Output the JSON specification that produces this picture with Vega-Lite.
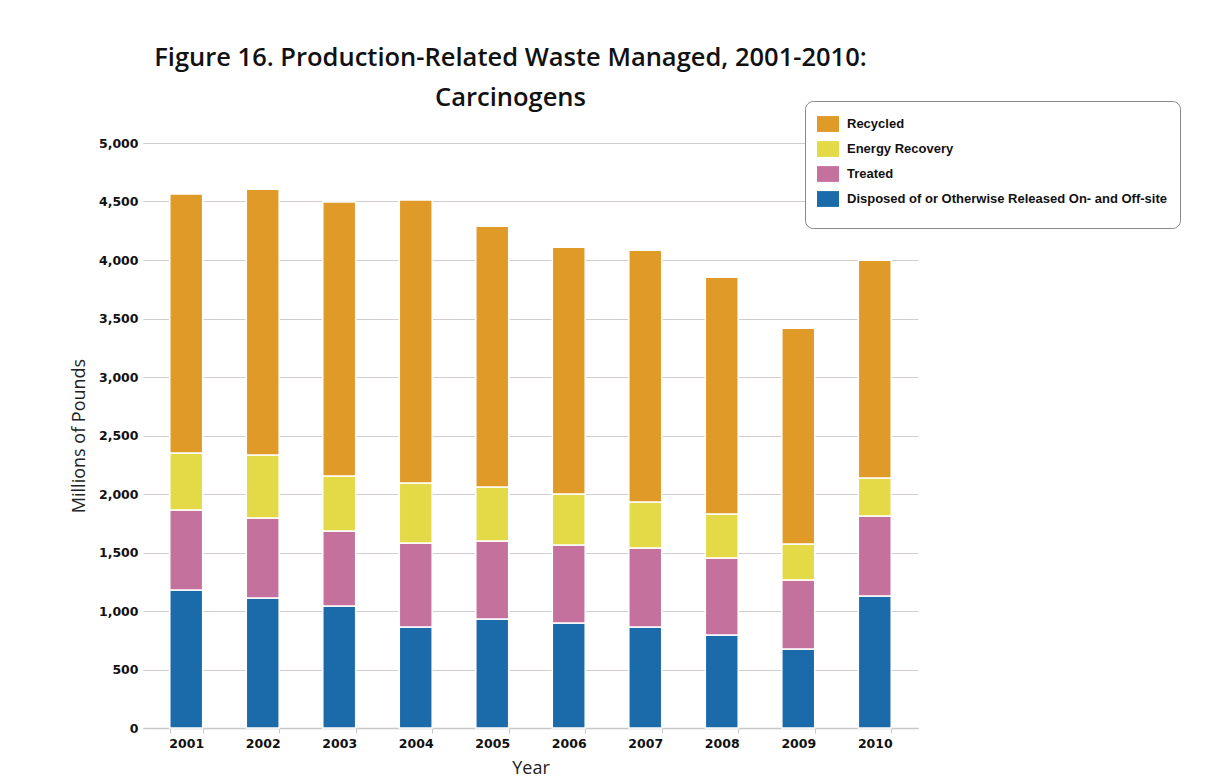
{
  "$schema": "https://vega.github.io/schema/vega-lite/v6.json",
  "width": 775,
  "height": 585,
  "autosize": "none",
  "padding": {"left": 143, "top": 143, "right": 312, "bottom": 56},
  "background": "white",
  "title": {
    "text": ["Figure 16. Production-Related Waste Managed, 2001-2010:", "Carcinogens"],
    "font": "Open Sans",
    "fontSize": 25.5,
    "fontWeight": 600,
    "color": "#111111",
    "anchor": "middle",
    "frame": "group",
    "lineHeight": 40,
    "offset": -11,
    "dx": -20
  },
  "data": {
    "values": [
      {"year": "2001", "category": "Disposed of or Otherwise Released On- and Off-site", "k": 1, "value": 1180},
      {"year": "2001", "category": "Treated", "k": 2, "value": 683},
      {"year": "2001", "category": "Energy Recovery", "k": 3, "value": 487},
      {"year": "2001", "category": "Recycled", "k": 4, "value": 2215},
      {"year": "2002", "category": "Disposed of or Otherwise Released On- and Off-site", "k": 1, "value": 1111},
      {"year": "2002", "category": "Treated", "k": 2, "value": 684},
      {"year": "2002", "category": "Energy Recovery", "k": 3, "value": 538},
      {"year": "2002", "category": "Recycled", "k": 4, "value": 2272},
      {"year": "2003", "category": "Disposed of or Otherwise Released On- and Off-site", "k": 1, "value": 1043},
      {"year": "2003", "category": "Treated", "k": 2, "value": 641},
      {"year": "2003", "category": "Energy Recovery", "k": 3, "value": 470},
      {"year": "2003", "category": "Recycled", "k": 4, "value": 2341},
      {"year": "2004", "category": "Disposed of or Otherwise Released On- and Off-site", "k": 1, "value": 863},
      {"year": "2004", "category": "Treated", "k": 2, "value": 718},
      {"year": "2004", "category": "Energy Recovery", "k": 3, "value": 513},
      {"year": "2004", "category": "Recycled", "k": 4, "value": 2418},
      {"year": "2005", "category": "Disposed of or Otherwise Released On- and Off-site", "k": 1, "value": 932},
      {"year": "2005", "category": "Treated", "k": 2, "value": 666},
      {"year": "2005", "category": "Energy Recovery", "k": 3, "value": 462},
      {"year": "2005", "category": "Recycled", "k": 4, "value": 2229},
      {"year": "2006", "category": "Disposed of or Otherwise Released On- and Off-site", "k": 1, "value": 897},
      {"year": "2006", "category": "Treated", "k": 2, "value": 667},
      {"year": "2006", "category": "Energy Recovery", "k": 3, "value": 436},
      {"year": "2006", "category": "Recycled", "k": 4, "value": 2110},
      {"year": "2007", "category": "Disposed of or Otherwise Released On- and Off-site", "k": 1, "value": 863},
      {"year": "2007", "category": "Treated", "k": 2, "value": 675},
      {"year": "2007", "category": "Energy Recovery", "k": 3, "value": 394},
      {"year": "2007", "category": "Recycled", "k": 4, "value": 2152},
      {"year": "2008", "category": "Disposed of or Otherwise Released On- and Off-site", "k": 1, "value": 795},
      {"year": "2008", "category": "Treated", "k": 2, "value": 658},
      {"year": "2008", "category": "Energy Recovery", "k": 3, "value": 376},
      {"year": "2008", "category": "Recycled", "k": 4, "value": 2024},
      {"year": "2009", "category": "Disposed of or Otherwise Released On- and Off-site", "k": 1, "value": 675},
      {"year": "2009", "category": "Treated", "k": 2, "value": 590},
      {"year": "2009", "category": "Energy Recovery", "k": 3, "value": 308},
      {"year": "2009", "category": "Recycled", "k": 4, "value": 1843},
      {"year": "2010", "category": "Disposed of or Otherwise Released On- and Off-site", "k": 1, "value": 1128},
      {"year": "2010", "category": "Treated", "k": 2, "value": 684},
      {"year": "2010", "category": "Energy Recovery", "k": 3, "value": 325},
      {"year": "2010", "category": "Recycled", "k": 4, "value": 1861}
    ]
  },
  "mark": {"type": "bar", "stroke": "white", "strokeWidth": 1.5},
  "encoding": {
    "x": {
      "field": "year",
      "type": "nominal",
      "scale": {"paddingInner": 0.57, "paddingOuter": 0.35},
      "axis": {
        "title": "Year",
        "titleFont": "Open Sans",
        "titleFontSize": 18,
        "titleFontWeight": "normal",
        "titleColor": "#222222",
        "titlePadding": 10,
        "labelAngle": 0,
        "labelFont": "DejaVu Sans",
        "labelFontSize": 12.5,
        "labelFontWeight": "bold",
        "labelColor": "#111111",
        "labelPadding": 4,
        "tickBand": "extent",
        "tickColor": "#c8c8c8",
        "tickSize": 5,
        "domainColor": "#c8c8c8",
        "domainWidth": 1.5
      }
    },
    "y": {
      "field": "value",
      "type": "quantitative",
      "stack": "zero",
      "scale": {"domain": [0, 5000], "nice": false},
      "axis": {
        "title": "Millions of Pounds",
        "titleFont": "Open Sans",
        "titleFontSize": 18,
        "titleFontWeight": "normal",
        "titleColor": "#222222",
        "titlePadding": 10,
        "values": [0, 500, 1000, 1500, 2000, 2500, 3000, 3500, 4000, 4500, 5000],
        "format": ",d",
        "labelFont": "DejaVu Sans",
        "labelFontSize": 12.5,
        "labelFontWeight": "bold",
        "labelColor": "#111111",
        "labelPadding": 5,
        "ticks": false,
        "domain": false,
        "grid": true,
        "gridColor": "#d2cccc",
        "gridWidth": 1
      }
    },
    "color": {
      "field": "category",
      "type": "nominal",
      "scale": {
        "domain": ["Recycled", "Energy Recovery", "Treated", "Disposed of or Otherwise Released On- and Off-site"],
        "range": ["#E09A28", "#E4D947", "#C4719E", "#1B6BAA"]
      },
      "legend": {
        "title": " ",
        "titleOrient": "bottom",
        "titleFontSize": 5,
        "titlePadding": 4,
        "orient": "none",
        "legendX": 662,
        "legendY": -42,
        "fillColor": "white",
        "strokeColor": "#888888",
        "cornerRadius": 8,
        "padding": 12,
        "symbolType": "M-1,-0.72L1,-0.72L1,0.72L-1,0.72Z",
        "symbolSize": 484,
        "symbolStrokeWidth": 0,
        "symbolOpacity": 1,
        "rowPadding": 6,
        "labelOffset": 8,
        "labelFont": "Liberation Sans",
        "labelFontSize": 13,
        "labelFontWeight": "bold",
        "labelColor": "#111111",
        "labelLimit": 400
      }
    },
    "order": {"field": "k", "type": "quantitative", "sort": "ascending"}
  },
  "config": {
    "view": {"stroke": null}
  }
}
